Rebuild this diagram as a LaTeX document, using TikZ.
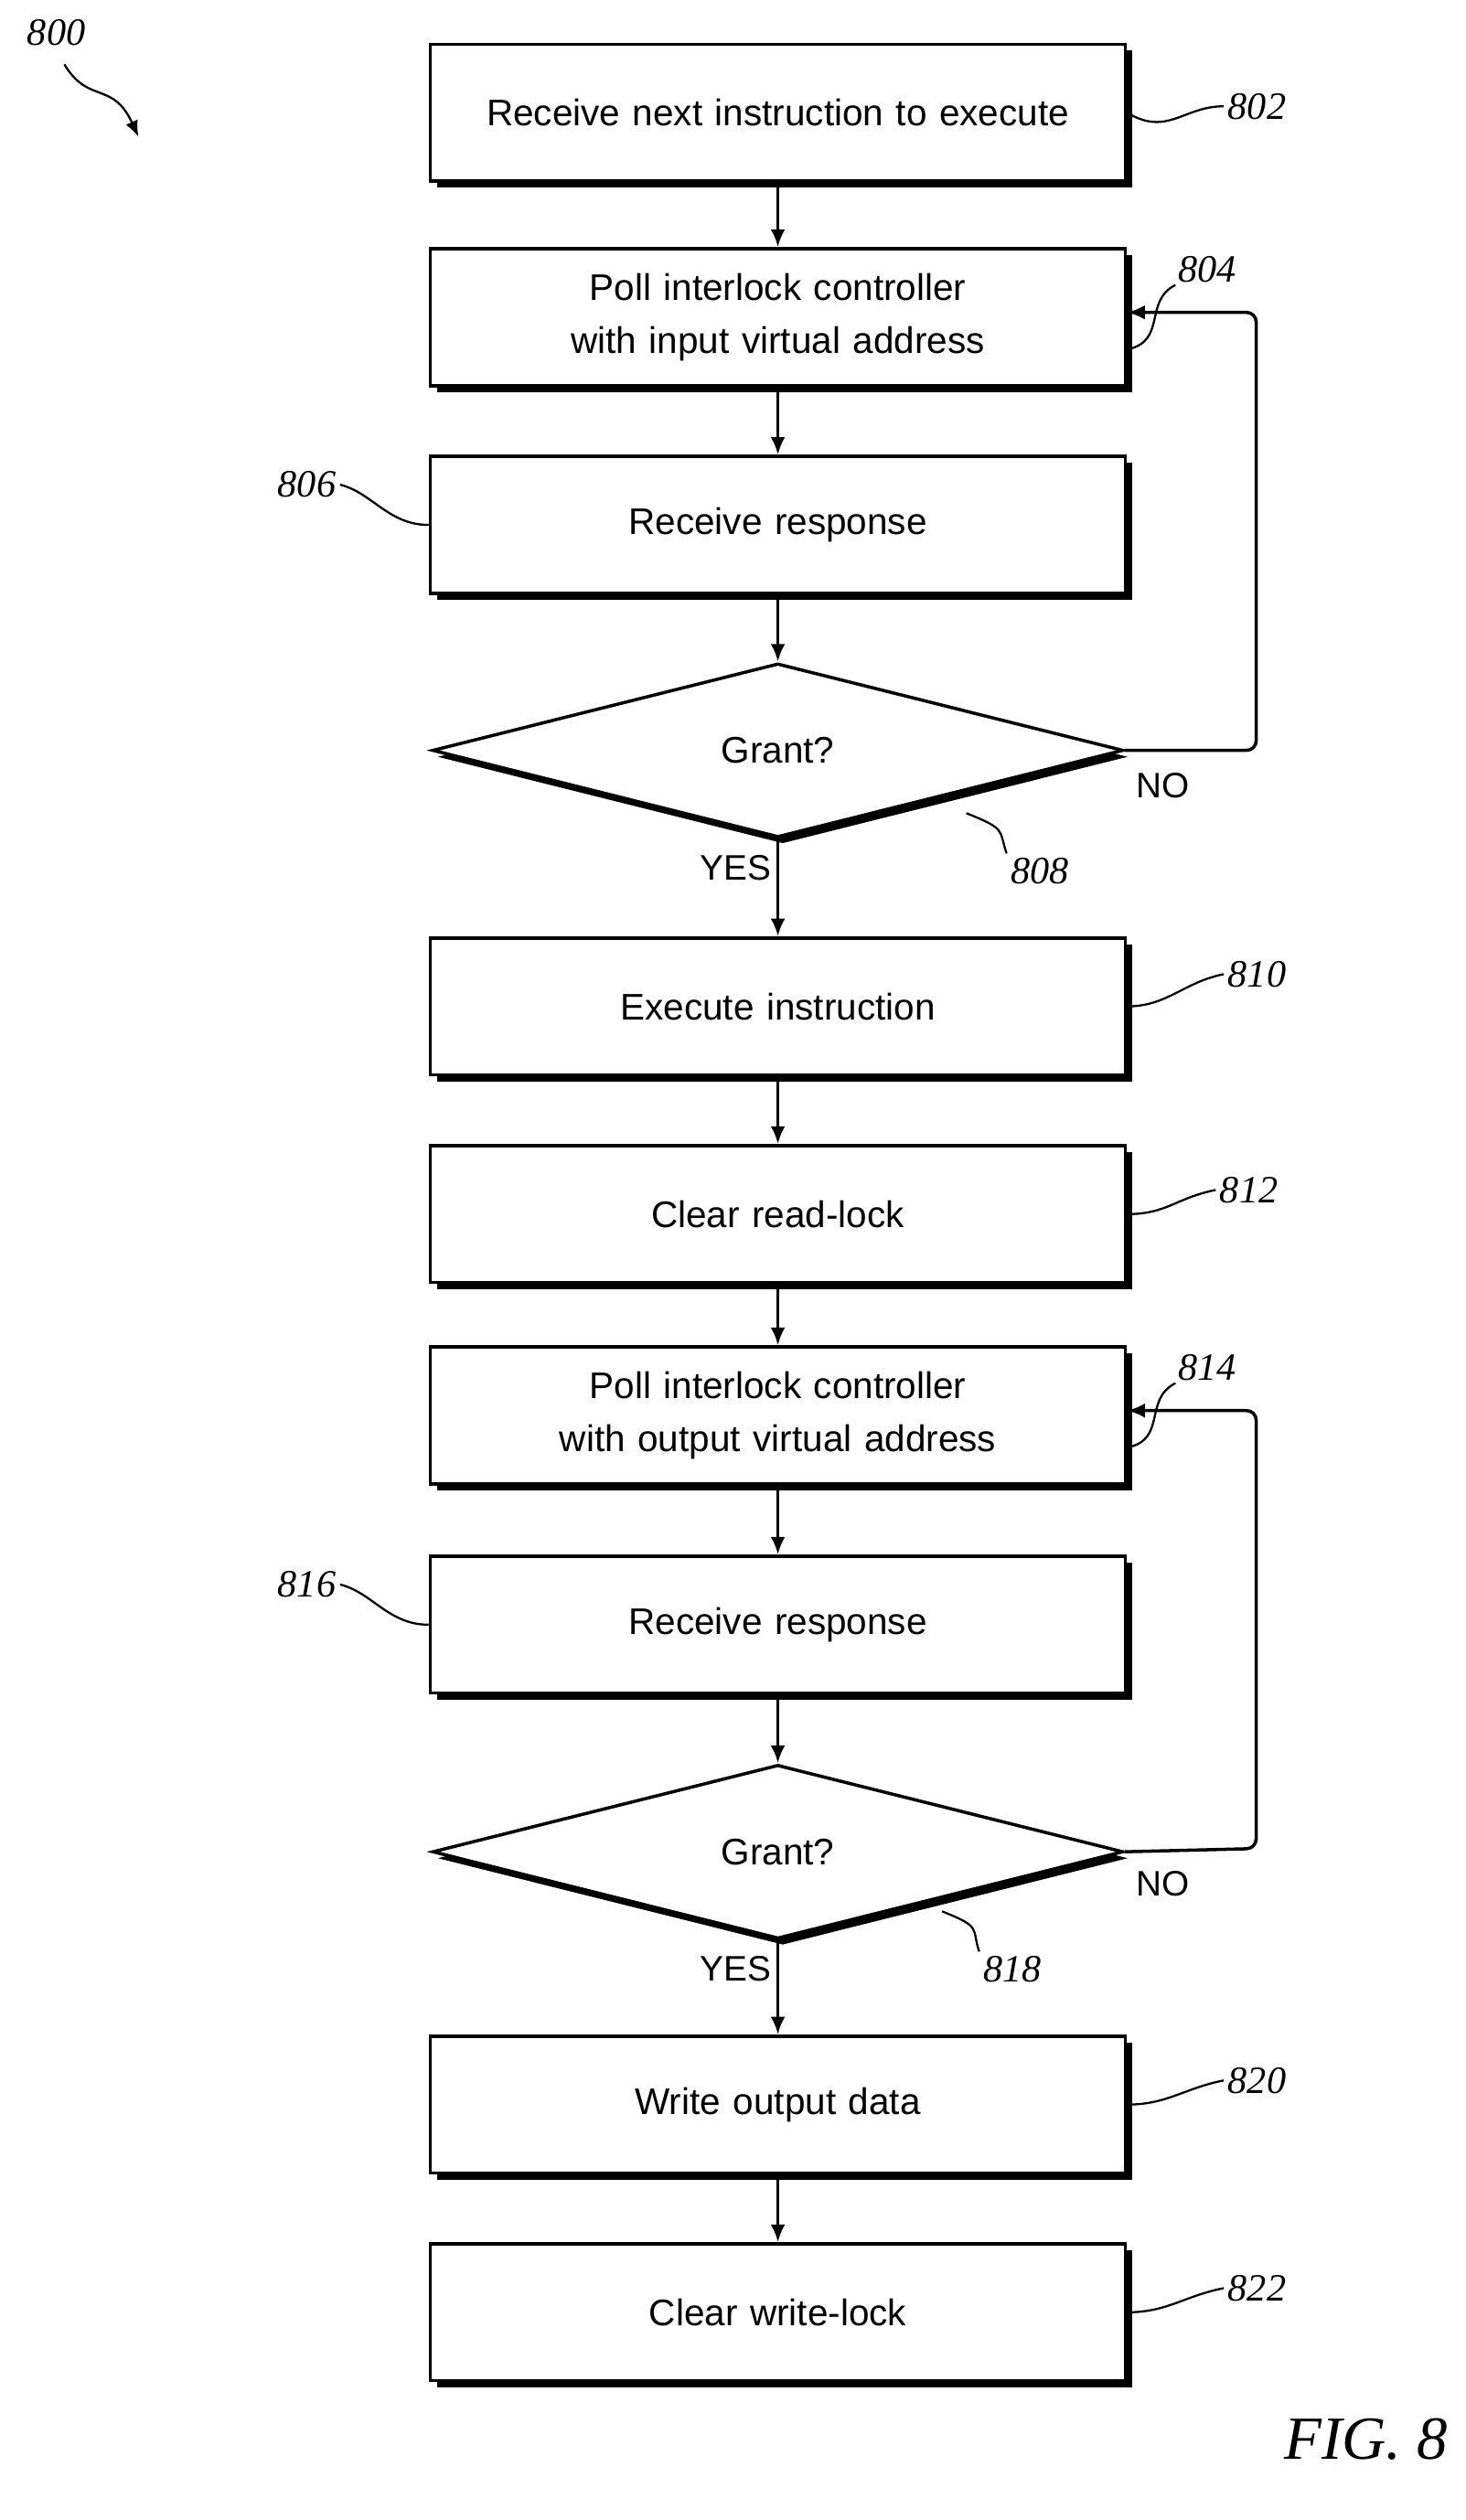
\documentclass[tikz,border=0pt]{standalone}
\usepackage{fontspec}
\setmainfont{Liberation Sans}
\newfontfamily\numfont{Liberation Serif}
\usetikzlibrary{shapes.geometric,shadows,positioning,arrows.meta}
\tikzset{
  stepbox/.style={draw, line width=2pt, fill=white, minimum width=429pt, minimum height=85pt,
    align=center, text width=425pt, font=\fontsize{23}{33}\selectfont,
    drop shadow={shadow xshift=4pt, shadow yshift=-4pt, opacity=1, fill=black}},
  test/.style={draw, line width=2pt, fill=white, diamond, minimum width=429pt, minimum height=108pt,
    inner sep=0pt, aspect=4, font=\fontsize{23}{28}\selectfont,
    drop shadow={shadow xshift=3pt, shadow yshift=-4pt, opacity=1, fill=black}},
  ref/.style={font=\numfont\itshape\fontsize{24}{28}\selectfont},
  flow/.style={line width=2pt, -{Latex[length=11pt,width=9pt]}},
  lead/.style={line width=1.3pt}
}
\begin{document}
\begin{tikzpicture}[x=1pt, y=-1pt]
  \useasboundingbox (0,0) rectangle (910,1565);
  \node[stepbox] (b802) at (483,70) {Receive next instruction to execute};
  \node[stepbox] (b804) at (483,197) {Poll interlock controller with input virtual address};
  \node[stepbox] (b806) at (483,326) {Receive response};
  \node[test] (d808) at (483,466) {Grant?};
  \node[stepbox] (b810) at (483,625) {Execute instruction};
  \node[stepbox] (b812) at (483,754) {Clear read-lock};
  \node[stepbox] (b814) at (483,879) {Poll interlock controller with output virtual address};
  \node[stepbox] (b816) at (483,1009) {Receive response};
  \node[test] (d818) at (483,1150) {Grant?};
  \node[stepbox] (b820) at (483,1307) {Write output data};
  \node[stepbox] (b822) at (483,1436) {Clear write-lock};

  \draw[flow] (b802) -- (b804);
  \draw[flow] (b804) -- (b806);
  \draw[flow] (b806) -- (d808);
  \draw[flow] (d808) -- node[pos=0.3, left, font=\fontsize{22}{26}\selectfont]{YES} (b810);
  \draw[flow] (b810) -- (b812);
  \draw[flow] (b812) -- (b814);
  \draw[flow] (b814) -- (b816);
  \draw[flow] (b816) -- (d818);
  \draw[flow] (d818) -- node[pos=0.3, left, font=\fontsize{22}{26}\selectfont]{YES} (b820);
  \draw[flow] (b820) -- (b822);

  \coordinate (r808) at (780,466);
  \coordinate (r818) at (780,1148);
  \draw[flow, rounded corners=6pt] (d808.east) -- (r808) |- ([yshift=3pt]b804.east);
  \draw[flow, rounded corners=6pt] (d818.east) -- (r818) |- ([yshift=3pt]b814.east);
  \node[font=\fontsize{22}{26}\selectfont] (no808) at (722,488) {NO};
  \node[font=\fontsize{22}{26}\selectfont] (no818) at (722,1170) {NO};

  % reference numerals
  \draw[lead] (b802.east) .. controls +(25,15) and +(-25,0) .. ++(60,-4) node[ref, right, inner sep=2pt]{802};
  \draw[lead] ([yshift=-20pt]b804.east) .. controls +(25,-5) and +(-20,10) .. ++(30,-40) node[ref, above right, inner sep=1pt]{804};
  \draw[lead] (b806.west) .. controls +(-25,0) and +(20,5) .. ++(-55,-25) node[ref, left, inner sep=2pt]{806};
  \draw[lead] (600,505) .. controls +(25,10) and +(-5,-15) .. (625,530) node[ref, below right, inner sep=2pt]{808};
  \draw[lead] (b810.east) .. controls +(25,0) and +(-25,5) .. ++(60,-20) node[ref, right, inner sep=2pt]{810};
  \draw[lead] (b812.east) .. controls +(25,0) and +(-25,5) .. ++(55,-15) node[ref, right, inner sep=2pt]{812};
  \draw[lead] ([yshift=-20pt]b814.east) .. controls +(25,-5) and +(-20,10) .. ++(30,-40) node[ref, above right, inner sep=1pt]{814};
  \draw[lead] (b816.west) .. controls +(-25,0) and +(20,5) .. ++(-55,-25) node[ref, left, inner sep=2pt]{816};
  \draw[lead] (585,1187) .. controls +(25,10) and +(-5,-15) .. (608,1212) node[ref, below right, inner sep=2pt]{818};
  \draw[lead] (b820.east) .. controls +(25,0) and +(-25,5) .. ++(60,-15) node[ref, right, inner sep=2pt]{820};
  \draw[lead] (b822.east) .. controls +(25,0) and +(-25,5) .. ++(60,-15) node[ref, right, inner sep=2pt]{822};

  \node[ref] (fig800) at (35,20) {800};
  \coordinate (tip800) at (86,85);
  \draw[lead, -{Latex[length=10pt,width=8pt]}] (40,40) .. controls (55,65) and (70,50) .. (tip800);
  \node[font=\numfont\itshape\fontsize{38}{42}\selectfont] (fig) at (848,1515) {FIG. 8};
\end{tikzpicture}
\end{document}
